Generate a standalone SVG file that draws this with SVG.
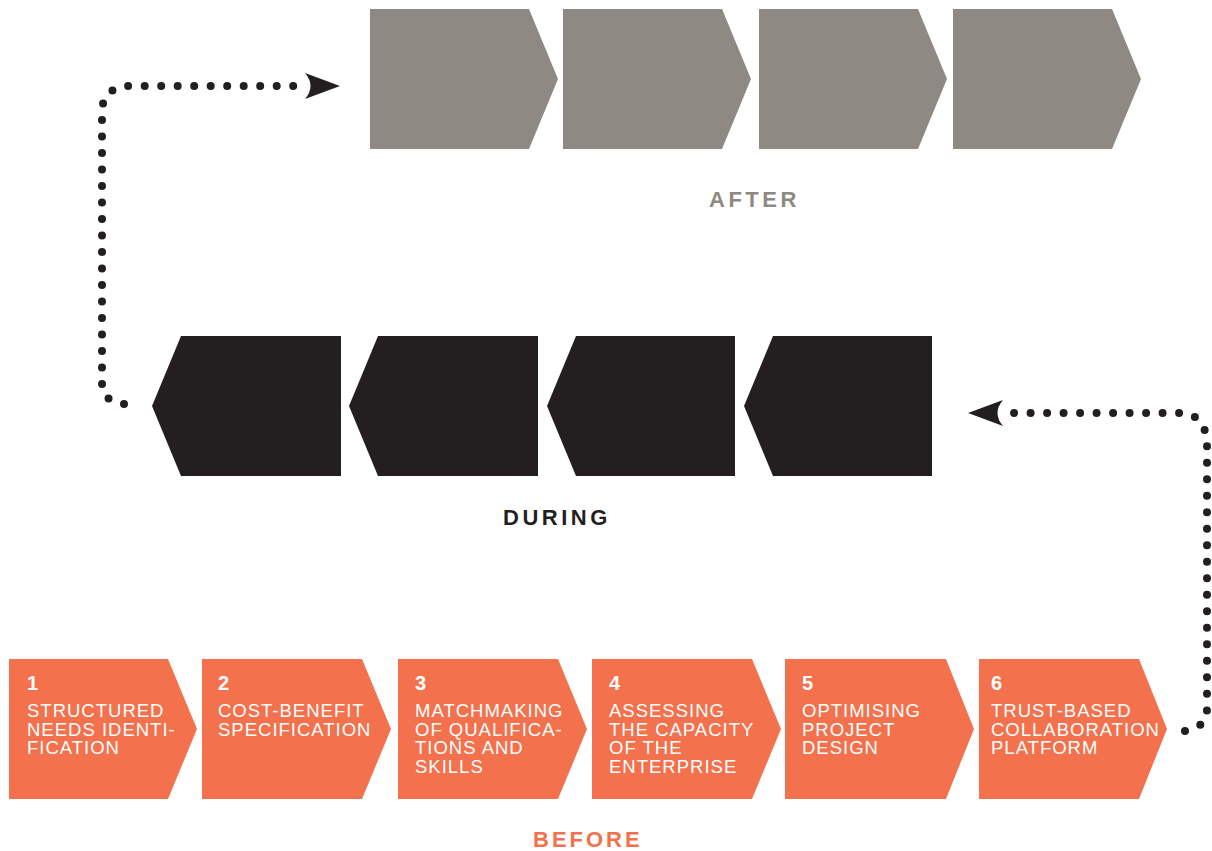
<svg xmlns="http://www.w3.org/2000/svg" width="1212" height="851" viewBox="0 0 1212 851">
<style>
.or{fill:#f3714c}
.gr{fill:#8f8983}
.bk{fill:#231f20}
.num{font-family:"Liberation Sans",Arial,sans-serif;font-weight:bold;font-size:20px;fill:#fff}
.lbl{font-family:"Liberation Sans",Arial,sans-serif;font-size:18.5px;letter-spacing:1px;fill:#fff}
.hd{font-family:"Liberation Sans",Arial,sans-serif;font-weight:bold;font-size:22px;letter-spacing:3.5px}
.dots{fill:none;stroke:#231f20;stroke-width:8;stroke-linecap:round;stroke-dasharray:0 16.5}
</style>
<rect width="1212" height="851" fill="#fff"/>
<g id="after">
<g id="after-1"><polygon class="gr" points="370,9 529,9 558,79 529,149 370,149"/></g>
<g id="after-2"><polygon class="gr" points="563,9 722,9 751,79 722,149 563,149"/></g>
<g id="after-3"><polygon class="gr" points="759,9 918,9 947,79 918,149 759,149"/></g>
<g id="after-4"><polygon class="gr" points="953,9 1112,9 1141,79 1112,149 953,149"/></g>
<text class="hd" x="709" y="207" fill="#8f8983">AFTER</text>
</g>
<g id="during">
<g id="during-1"><polygon class="bk" points="152,406 181,336 341,336 341,476 181,476"/></g>
<g id="during-2"><polygon class="bk" points="349,406 378,336 538,336 538,476 378,476"/></g>
<g id="during-3"><polygon class="bk" points="547,406 576,336 735,336 735,476 576,476"/></g>
<g id="during-4"><polygon class="bk" points="744,406 773,336 932,336 932,476 773,476"/></g>
<text class="hd" x="503" y="525" fill="#231f20">DURING</text>
</g>
<g id="before">
<g id="step-1"><polygon class="or" points="9,659 168,659 197,729 168,799 9,799"/>
<text class="num" x="27" y="690">1</text>
<text class="lbl" x="27" y="717">STRUCTURED</text>
<text class="lbl" x="27" y="736">NEEDS IDENTI-</text>
<text class="lbl" x="27" y="754">FICATION</text></g>
<g id="step-2"><polygon class="or" points="202,659 362,659 391,729 362,799 202,799"/>
<text class="num" x="218" y="690">2</text>
<text class="lbl" x="218" y="717">COST-BENEFIT</text>
<text class="lbl" x="218" y="736">SPECIFICATION</text></g>
<g id="step-3"><polygon class="or" points="398,659 558,659 587,729 558,799 398,799"/>
<text class="num" x="415" y="690">3</text>
<text class="lbl" x="415" y="717">MATCHMAKING</text>
<text class="lbl" x="415" y="736">OF QUALIFICA-</text>
<text class="lbl" x="415" y="754">TIONS AND</text>
<text class="lbl" x="415" y="773">SKILLS</text></g>
<g id="step-4"><polygon class="or" points="592,659 752,659 781,729 752,799 592,799"/>
<text class="num" x="609" y="690">4</text>
<text class="lbl" x="609" y="717">ASSESSING</text>
<text class="lbl" x="609" y="736">THE CAPACITY</text>
<text class="lbl" x="609" y="754">OF THE</text>
<text class="lbl" x="609" y="773">ENTERPRISE</text></g>
<g id="step-5"><polygon class="or" points="785,659 946,659 974,729 946,799 785,799"/>
<text class="num" x="802" y="690">5</text>
<text class="lbl" x="802" y="717">OPTIMISING</text>
<text class="lbl" x="802" y="736">PROJECT</text>
<text class="lbl" x="802" y="754">DESIGN</text></g>
<g id="step-6"><polygon class="or" points="979,659 1139,659 1167,729 1139,799 979,799"/>
<text class="num" x="991" y="690">6</text>
<text class="lbl" x="991" y="717">TRUST-BASED</text>
<text class="lbl" x="991" y="736">COLLABORATION</text>
<text class="lbl" x="991" y="754">PLATFORM</text></g>
<text class="hd" x="533" y="847" fill="#f3714c" style="letter-spacing:3px">BEFORE</text>
</g>
<g id="connectors">
<path class="dots" d="M 124 404 C 108 402 102 395 102 383 L 102 112 C 102 96 112 86 130 86 L 306 86"/>
<path class="bk" d="M 340 86 L 305 73 Q 316 86 305 99 Z"/>
<path class="dots" d="M 1185 731 C 1200 728 1207 722 1207 708 L 1207 445 C 1207 425 1197 413 1180 413 L 1002 413"/>
<path class="bk" d="M 968 413 L 1003 400 Q 992 413 1003 426 Z"/>
</g>
</svg>
